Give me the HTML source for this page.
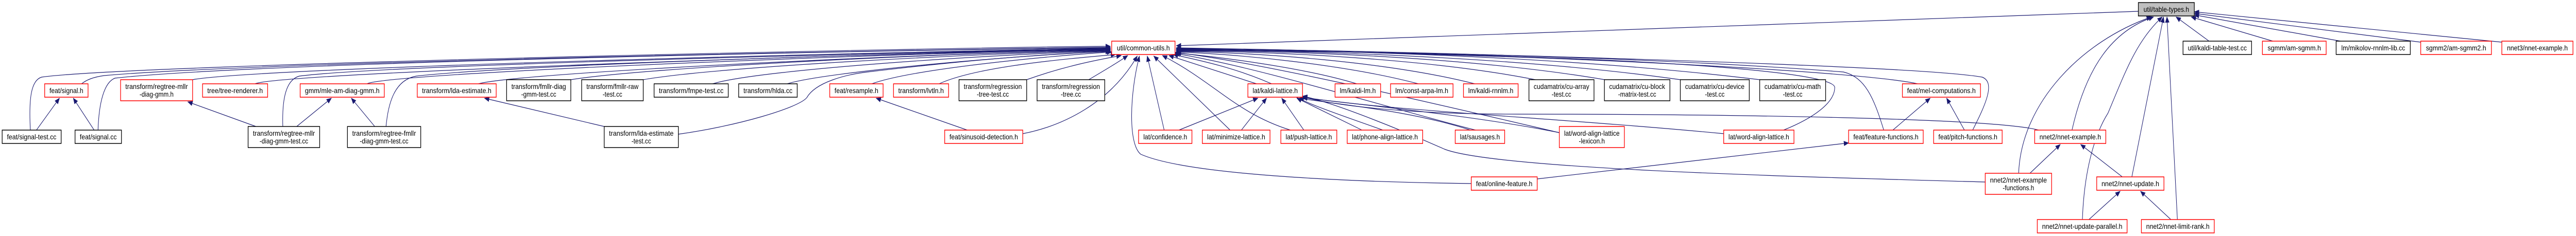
<!DOCTYPE html>
<html><head><meta charset="utf-8"><style>
html,body{margin:0;padding:0;background:#fff;overflow:hidden;width:100%;height:100%;}
svg{display:block;width:100vw;height:100vh;}
text{font-family:"Liberation Sans",sans-serif;font-size:14px;fill:#000;}
.r{fill:#fff;stroke:#ff0000;stroke-width:1.5;}
.b{fill:#fff;stroke:#000;stroke-width:1.5;}
.g{fill:#bfbfbf;stroke:#000;stroke-width:1.5;}
.e{fill:none;stroke:#191970;stroke-width:1.2;marker-end:url(#a);}
</style></head><body>
<svg viewBox="0 0 5939 459" preserveAspectRatio="none" xmlns="http://www.w3.org/2000/svg">
<defs><marker id="a" markerUnits="userSpaceOnUse" markerWidth="12" markerHeight="10" refX="11" refY="5" orient="auto"><path d="M0,0 L12,5 L0,10 z" fill="#191970"/></marker></defs>
<g>
<path class="e" d="M70,253 C66,190 72,156 96,150 C300,125 2200,92 2560,90"/>
<path class="e" d="M188,163 C200,155 215,150 240,147 C600,120 2200,95 2560,92"/>
<path class="e" d="M226,253 C228,200 240,160 265,152 C600,120 2200,95 2560,93"/>
<path class="e" d="M444,155 C600,130 2200,98 2560,94"/>
<path class="e" d="M588,163 C650,140 2200,100 2560,95"/>
<path class="e" d="M652,246 C650,190 660,155 690,148 C900,125 2200,100 2560,95"/>
<path class="e" d="M846,163 C900,140 2200,100 2560,96"/>
<path class="e" d="M890,246 C895,200 910,155 960,148 C1200,125 2200,100 2560,96"/>
<path class="e" d="M1103,163 C1200,140 2200,102 2560,97"/>
<path class="e" d="M1316,155 C1500,130 2200,103 2560,97"/>
<path class="e" d="M1483,155 C1650,130 2250,104 2560,98"/>
<path class="e" d="M1643,163 C1750,135 2300,105 2560,99"/>
<path class="e" d="M1815,163 C1900,140 2350,107 2560,100"/>
<path class="e" d="M1564,261 C1700,245 1840,210 1860,190 C1880,160 1950,145 2000,140 C2200,120 2400,105 2560,100"/>
<path class="e" d="M2010,163 C2100,135 2400,110 2563,101"/>
<path class="e" d="M2165,163 C2250,130 2450,115 2572,106"/>
<path class="e" d="M2367,155 C2450,130 2520,118 2585,108"/>
<path class="e" d="M2510,155 C2550,135 2580,120 2600,108"/>
<path class="e" d="M2358,260 C2450,245 2560,200 2622,109"/>
<path class="e" d="M3392,357 C3200,355 2750,345 2630,300 C2600,280 2605,180 2627,109"/>
<path class="e" d="M2684,253 L2645,109"/>
<path class="e" d="M2836,253 L2660,109"/>
<path class="e" d="M2975,253 C2850,220 2800,160 2680,108"/>
<path class="e" d="M2897,163 L2695,108"/>
<path class="e" d="M3188,253 C3080,220 3000,200 2950,170 C2850,130 2750,115 2705,106"/>
<path class="e" d="M3402,253 C3200,210 2900,130 2709,104"/>
<path class="e" d="M3595,258 C3300,200 2900,120 2709,102"/>
<path class="e" d="M4112,253 C4180,230 4230,200 4230,170 C4230,130 3500,100 2712,98"/>
<path class="e" d="M3128,163 C3000,130 2800,110 2712,103"/>
<path class="e" d="M3270,163 C3100,125 2850,105 2712,101"/>
<path class="e" d="M3400,163 C3200,120 2900,102 2712,100"/>
<path class="e" d="M3540,155 C3300,115 2950,100 2712,99"/>
<path class="e" d="M3700,155 C3400,112 3000,99 2712,98"/>
<path class="e" d="M3874,155 C3500,110 3000,98 2712,97"/>
<path class="e" d="M4057,155 C3600,108 3050,97 2712,96"/>
<path class="e" d="M4421,163 C4300,140 3600,105 2712,95"/>
<path class="e" d="M4343,253 C4320,190 4300,150 4250,140 C3800,110 3100,98 2712,94"/>
<path class="e" d="M4548,253 C4580,200 4600,160 4570,150 C4400,125 3200,100 2712,93"/>
<path class="e" d="M4930,22 L2712,89"/>
<path class="e" d="M2718,253 L2900,191"/>
<path class="e" d="M2862,253 L2920,191"/>
<path class="e" d="M3006,253 L2955,191"/>
<path class="e" d="M3140,253 L2990,191"/>
<path class="e" d="M3390,253 C3250,215 3100,205 2995,191"/>
<path class="e" d="M3595,258 C3400,225 3150,205 3003,190"/>
<path class="e" d="M3974,260 C3600,230 3200,215 3003,189"/>
<path class="e" d="M4700,253 C4600,230 4000,222 3500,222 C3200,222 3050,200 3003,188"/>
<path class="e" d="M4577,354 C4200,345 3450,330 3330,290 C3250,260 3080,200 3003,187"/>
<path class="e" d="M3544,348 L4262,278"/>
<path class="e" d="M4364,253 L4450,191"/>
<path class="e" d="M4529,253 L4488,191"/>
<path class="e" d="M4654,337 C4660,200 4800,80 4960,33"/>
<path class="e" d="M4777,253 C4810,130 4870,60 4965,33"/>
<path class="e" d="M4801,427 C4805,330 4830,260 4860,220 C4900,140 4925,80 4985,33"/>
<path class="e" d="M4915,344 L4988,33"/>
<path class="e" d="M5020,427 L4996,33"/>
<path class="e" d="M5093,80 L5017,33"/>
<path class="e" d="M5240,80 L5052,33"/>
<path class="e" d="M5396,80 L5059,29"/>
<path class="e" d="M5581,82 L5059,26"/>
<path class="e" d="M5768,82 L5059,23"/>
<path class="e" d="M4680,337 L4750,281"/>
<path class="e" d="M4893,344 L4797,281"/>
<path class="e" d="M4816,427 L4888,372"/>
<path class="e" d="M5005,427 L4935,372"/>
<path class="e" d="M84,253 L137,191"/>
<path class="e" d="M217,253 L169,191"/>
<path class="e" d="M590,246 L433,198"/>
<path class="e" d="M684,246 L764,191"/>
<path class="e" d="M864,246 L810,191"/>
<path class="e" d="M1393,246 L1117,191"/>
<path class="e" d="M2230,253 L2020,191"/>
</g>
<g text-anchor="middle">
<rect class="g" x="4930" y="5" width="129" height="26"/><text x="4994.5" y="23" textLength="105" lengthAdjust="spacingAndGlyphs">util/table-types.h</text>
<rect class="r" x="2563" y="80" width="146" height="26"/><text x="2636" y="98" textLength="122" lengthAdjust="spacingAndGlyphs">util/common-utils.h</text>
<rect class="b" x="5033" y="80" width="158" height="26"/><text x="5112" y="98" textLength="136" lengthAdjust="spacingAndGlyphs">util/kaldi-table-test.cc</text>
<rect class="r" x="5216" y="80" width="147" height="26"/><text x="5289.5" y="98" textLength="123" lengthAdjust="spacingAndGlyphs">sgmm/am-sgmm.h</text>
<rect class="b" x="5386" y="80" width="171" height="26"/><text x="5471.5" y="98" textLength="147" lengthAdjust="spacingAndGlyphs">lm/mikolov-rnnlm-lib.cc</text>
<rect class="r" x="5581" y="80" width="163" height="26"/><text x="5662.5" y="98" textLength="139" lengthAdjust="spacingAndGlyphs">sgmm2/am-sgmm2.h</text>
<rect class="r" x="5768" y="80" width="164" height="26"/><text x="5850" y="98" textLength="140" lengthAdjust="spacingAndGlyphs">nnet3/nnet-example.h</text>

<rect class="r" x="103" y="163" width="100" height="26"/><text x="153" y="181" textLength="78" lengthAdjust="spacingAndGlyphs">feat/signal.h</text>
<rect class="r" x="278" y="155" width="166" height="41"/><text x="361" y="173" textLength="144" lengthAdjust="spacingAndGlyphs">transform/regtree-mllr</text><text x="361" y="188">-diag-gmm.h</text>
<rect class="r" x="467" y="163" width="150" height="26"/><text x="542" y="181" textLength="128" lengthAdjust="spacingAndGlyphs">tree/tree-renderer.h</text>
<rect class="r" x="692" y="163" width="194" height="26"/><text x="789" y="181" textLength="172" lengthAdjust="spacingAndGlyphs">gmm/mle-am-diag-gmm.h</text>
<rect class="r" x="962" y="163" width="182" height="26"/><text x="1053" y="181" textLength="160" lengthAdjust="spacingAndGlyphs">transform/lda-estimate.h</text>
<rect class="b" x="1168" y="155" width="148" height="41"/><text x="1242" y="173" textLength="126" lengthAdjust="spacingAndGlyphs">transform/fmllr-diag</text><text x="1242" y="188">-gmm-test.cc</text>
<rect class="b" x="1341" y="155" width="142" height="41"/><text x="1412" y="173" textLength="120" lengthAdjust="spacingAndGlyphs">transform/fmllr-raw</text><text x="1412" y="188">-test.cc</text>
<rect class="b" x="1508" y="163" width="171" height="26"/><text x="1593.5" y="181" textLength="149" lengthAdjust="spacingAndGlyphs">transform/fmpe-test.cc</text>
<rect class="b" x="1703" y="163" width="135" height="26"/><text x="1770.5" y="181" textLength="113" lengthAdjust="spacingAndGlyphs">transform/hlda.cc</text>
<rect class="r" x="1913" y="163" width="123" height="26"/><text x="1974.5" y="181" textLength="101" lengthAdjust="spacingAndGlyphs">feat/resample.h</text>
<rect class="r" x="2060" y="163" width="127" height="26"/><text x="2123.5" y="181" textLength="105" lengthAdjust="spacingAndGlyphs">transform/lvtln.h</text>
<rect class="b" x="2211" y="155" width="156" height="41"/><text x="2289" y="173" textLength="134" lengthAdjust="spacingAndGlyphs">transform/regression</text><text x="2289" y="188">-tree-test.cc</text>
<rect class="b" x="2391" y="155" width="156" height="41"/><text x="2469" y="173" textLength="134" lengthAdjust="spacingAndGlyphs">transform/regression</text><text x="2469" y="188">-tree.cc</text>
<rect class="r" x="2877" y="163" width="126" height="26"/><text x="2940" y="181" textLength="104" lengthAdjust="spacingAndGlyphs">lat/kaldi-lattice.h</text>
<rect class="r" x="3078" y="163" width="105" height="26"/><text x="3130.5" y="181" textLength="83" lengthAdjust="spacingAndGlyphs">lm/kaldi-lm.h</text>
<rect class="r" x="3206" y="163" width="144" height="26"/><text x="3278" y="181" textLength="122" lengthAdjust="spacingAndGlyphs">lm/const-arpa-lm.h</text>
<rect class="r" x="3374" y="163" width="126" height="26"/><text x="3437" y="181" textLength="104" lengthAdjust="spacingAndGlyphs">lm/kaldi-rnnlm.h</text>
<rect class="b" x="3525" y="155" width="150" height="41"/><text x="3600" y="173" textLength="128" lengthAdjust="spacingAndGlyphs">cudamatrix/cu-array</text><text x="3600" y="188">-test.cc</text>
<rect class="b" x="3699" y="155" width="151" height="41"/><text x="3774.5" y="173" textLength="129" lengthAdjust="spacingAndGlyphs">cudamatrix/cu-block</text><text x="3774.5" y="188">-matrix-test.cc</text>
<rect class="b" x="3874" y="155" width="159" height="41"/><text x="3953.5" y="173" textLength="137" lengthAdjust="spacingAndGlyphs">cudamatrix/cu-device</text><text x="3953.5" y="188">-test.cc</text>
<rect class="b" x="4057" y="155" width="152" height="41"/><text x="4133" y="173" textLength="130" lengthAdjust="spacingAndGlyphs">cudamatrix/cu-math</text><text x="4133" y="188">-test.cc</text>
<rect class="r" x="4386" y="163" width="180" height="26"/><text x="4476" y="181" textLength="158" lengthAdjust="spacingAndGlyphs">feat/mel-computations.h</text>

<rect class="b" x="5" y="253" width="136" height="26"/><text x="73" y="271" textLength="114" lengthAdjust="spacingAndGlyphs">feat/signal-test.cc</text>
<rect class="b" x="173" y="253" width="107" height="26"/><text x="226.5" y="271" textLength="85" lengthAdjust="spacingAndGlyphs">feat/signal.cc</text>
<rect class="b" x="572" y="246" width="165" height="41"/><text x="654.5" y="264" textLength="143" lengthAdjust="spacingAndGlyphs">transform/regtree-mllr</text><text x="654.5" y="279">-diag-gmm-test.cc</text>
<rect class="b" x="801" y="246" width="169" height="41"/><text x="885.5" y="264" textLength="147" lengthAdjust="spacingAndGlyphs">transform/regtree-fmllr</text><text x="885.5" y="279">-diag-gmm-test.cc</text>
<rect class="b" x="1393" y="246" width="171" height="41"/><text x="1478.5" y="264" textLength="149" lengthAdjust="spacingAndGlyphs">transform/lda-estimate</text><text x="1478.5" y="279">-test.cc</text>
<rect class="r" x="2178" y="253" width="180" height="26"/><text x="2268" y="271" textLength="158" lengthAdjust="spacingAndGlyphs">feat/sinusoid-detection.h</text>
<rect class="r" x="2625" y="253" width="123" height="26"/><text x="2686.5" y="271" textLength="101" lengthAdjust="spacingAndGlyphs">lat/confidence.h</text>
<rect class="r" x="2772" y="253" width="156" height="26"/><text x="2850" y="271" textLength="134" lengthAdjust="spacingAndGlyphs">lat/minimize-lattice.h</text>
<rect class="r" x="2953" y="253" width="129" height="26"/><text x="3017.5" y="271" textLength="107" lengthAdjust="spacingAndGlyphs">lat/push-lattice.h</text>
<rect class="r" x="3106" y="253" width="174" height="26"/><text x="3193" y="271" textLength="152" lengthAdjust="spacingAndGlyphs">lat/phone-align-lattice.h</text>
<rect class="r" x="3355" y="253" width="114" height="26"/><text x="3412" y="271" textLength="92" lengthAdjust="spacingAndGlyphs">lat/sausages.h</text>
<rect class="r" x="3595" y="246" width="150" height="41"/><text x="3670" y="264" textLength="128" lengthAdjust="spacingAndGlyphs">lat/word-align-lattice</text><text x="3670" y="279">-lexicon.h</text>
<rect class="r" x="3974" y="253" width="162" height="26"/><text x="4055" y="271" textLength="140" lengthAdjust="spacingAndGlyphs">lat/word-align-lattice.h</text>
<rect class="r" x="4262" y="253" width="172" height="26"/><text x="4348" y="271" textLength="150" lengthAdjust="spacingAndGlyphs">feat/feature-functions.h</text>
<rect class="r" x="4458" y="253" width="158" height="26"/><text x="4537" y="271" textLength="136" lengthAdjust="spacingAndGlyphs">feat/pitch-functions.h</text>
<rect class="r" x="4691" y="253" width="164" height="26"/><text x="4773" y="271" textLength="142" lengthAdjust="spacingAndGlyphs">nnet2/nnet-example.h</text>

<rect class="r" x="3392" y="344" width="152" height="26"/><text x="3468" y="362" textLength="130" lengthAdjust="spacingAndGlyphs">feat/online-feature.h</text>
<rect class="r" x="4577" y="337" width="153" height="41"/><text x="4653.5" y="355" textLength="131" lengthAdjust="spacingAndGlyphs">nnet2/nnet-example</text><text x="4653.5" y="370">-functions.h</text>
<rect class="r" x="4834" y="344" width="155" height="26"/><text x="4911.5" y="362" textLength="133" lengthAdjust="spacingAndGlyphs">nnet2/nnet-update.h</text>
<rect class="r" x="4697" y="427" width="207" height="26"/><text x="4800.5" y="445" textLength="185" lengthAdjust="spacingAndGlyphs">nnet2/nnet-update-parallel.h</text>
<rect class="r" x="4937" y="427" width="168" height="26"/><text x="5021" y="445" textLength="146" lengthAdjust="spacingAndGlyphs">nnet2/nnet-limit-rank.h</text>
</g>
</svg>
</body></html>
